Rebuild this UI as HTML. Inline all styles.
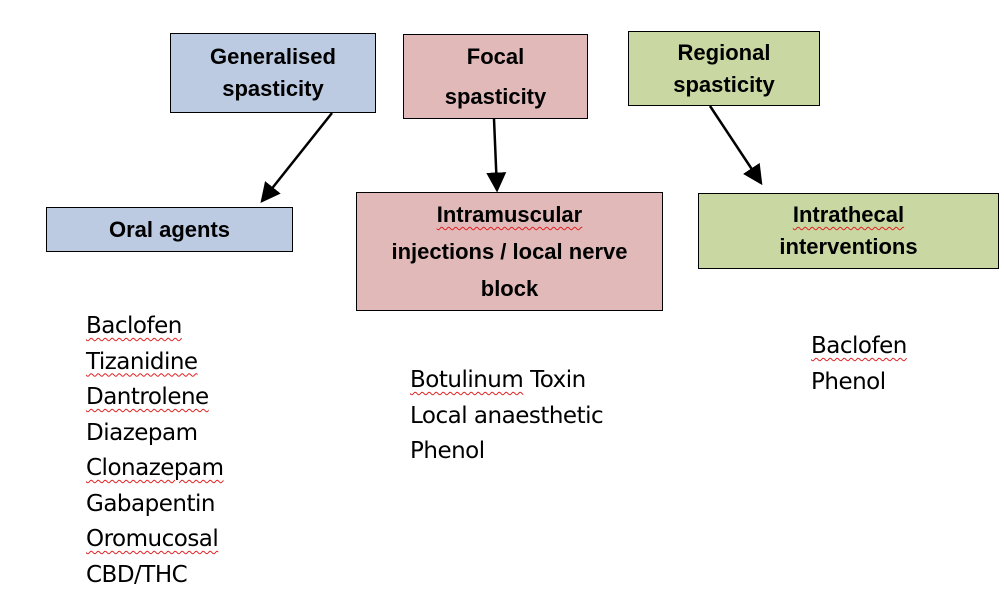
<!DOCTYPE html>
<html><head><style>
body{margin:0;width:1004px;height:600px;background:#fff;position:relative;overflow:hidden;font-family:"Liberation Sans",Arial,sans-serif}
.b{position:absolute;box-sizing:border-box;border:1.5px solid #000;display:flex;align-items:center;justify-content:center;text-align:center;font-weight:bold;font-size:22px;line-height:32px}
.blue{background:#bccbe2}.red{background:#e0b9b8}.grn{background:#c9d7a3}
.u{text-decoration:underline wavy #e02020;text-decoration-thickness:1px;text-underline-offset:4px}
.l{position:absolute;font-size:23px;line-height:35.5px;color:#000;font-family:"DejaVu Sans","Liberation Sans",sans-serif;letter-spacing:-0.5px}
</style></head><body>
<div class="b blue" style="left:170px;top:33px;width:206px;height:80px">Generalised<br>spasticity</div>
<div class="b blue" style="left:46px;top:207px;width:247px;height:45px">Oral agents</div>
<div class="b red" style="left:403px;top:34px;width:185px;height:85px;line-height:40px">Focal<br>spasticity</div>
<div class="b grn" style="left:628px;top:31px;width:192px;height:75px">Regional<br>spasticity</div>
<div class="b red" style="left:356px;top:192px;width:307px;height:119px;line-height:37px"><div><span class="u">Intramuscular</span><br>injections / local nerve<br>block</div></div>
<div class="b grn" style="left:698px;top:193px;width:301px;height:76px"><div><span class="u">Intrathecal</span><br>interventions</div></div>
<svg width="1004" height="600" style="position:absolute;left:0;top:0">
<defs><marker id="a" markerWidth="8" markerHeight="8" refX="7" refY="4" orient="auto"><path d="M0,0L8,4L0,8z" fill="#000"/></marker></defs>
<g stroke="#000" stroke-width="2.5" fill="none" marker-end="url(#a)">
<line x1="332" y1="113" x2="262" y2="201"/>
<line x1="494" y1="119" x2="497" y2="190"/>
<line x1="710" y1="106" x2="761" y2="183"/>
</g></svg>
<div class="l" style="left:86px;top:309px"><span class="u">Baclofen</span><br><span class="u">Tizanidine</span><br><span class="u">Dantrolene</span><br>Diazepam<br><span class="u">Clonazepam</span><br>Gabapentin<br><span class="u">Oromucosal</span><br>CBD/THC</div>
<div class="l" style="left:410px;top:363px"><span class="u">Botulinum</span> Toxin<br>Local anaesthetic<br>Phenol</div>
<div class="l" style="left:811px;top:329px"><span class="u">Baclofen</span><br>Phenol</div>
</body></html>
